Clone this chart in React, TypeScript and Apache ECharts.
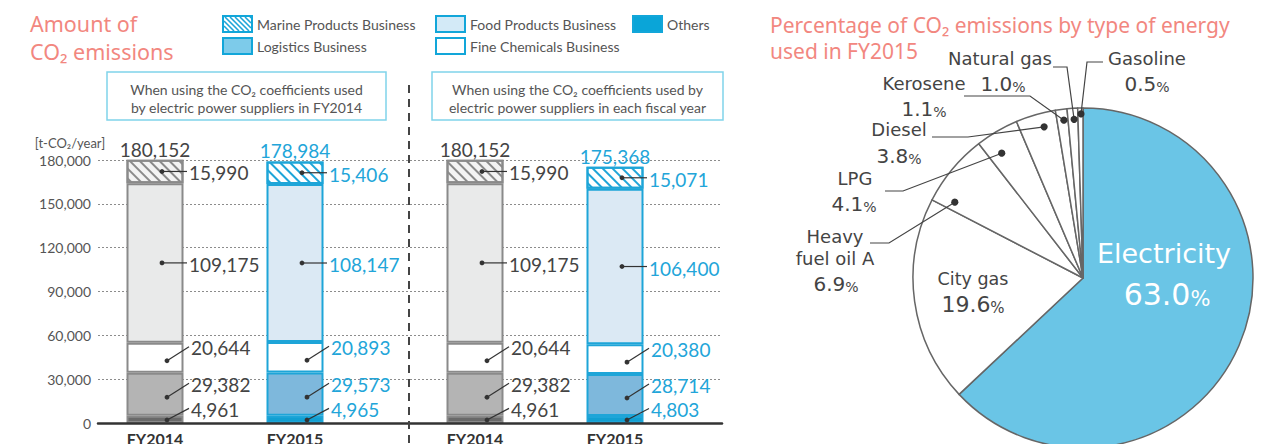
import React, { useEffect, useRef } from 'react';
import * as echarts from 'echarts';

// ---------------- data ----------------
const barCategories = ['FY2014', 'FY2015'];
// stacking order: bottom -> top
const segmentNames = ['Others', 'Logistics Business', 'Fine Chemicals Business', 'Food Products Business', 'Marine Products Business'];
const fy2014Emissions = [4961, 29382, 20644, 109175, 15990];
const fy2015EmissionsCoef2014 = [4965, 29573, 20893, 108147, 15406];
const fy2015EmissionsCoefEach = [4803, 28714, 20380, 106400, 15071];
const yAxisMin = 0;
const yAxisMax = 180000;
const yAxisInterval = 30000;
const yAxisUnit = '[t-CO₂/year]';
const panelNotes = [
  ['When using the CO₂ coefficients used', 'by electric power suppliers in FY2014'],
  ['When using the CO₂ coefficients used by', 'electric power suppliers in each fiscal year'],
];
const leftTitle = ['Amount of', 'CO₂ emissions'];
const rightTitle = ['Percentage of CO₂ emissions by type of energy', 'used in FY2015'];

const energyTypes = ['Electricity', 'City gas', 'Heavy fuel oil A', 'LPG', 'Diesel', 'Kerosene', 'Natural gas', 'Gasoline'];
const energyShares = [63.0, 19.6, 6.9, 4.1, 3.8, 1.1, 1.0, 0.5];

// ---------------- layout & style ----------------
const W = 1268;
const H = 444;
const FRAME_LEFT = 98;
const FRAME_RIGHT = 722;
const PLOT_TOP = 160;
const AXIS_Y = 423;
const PANEL_WIDTH = 280;
const PANEL_LEFTS = [85, 405];
const BAR_WIDTH = 57;

const SALMON = '#f2877f';
const GRAY_TEXT = '#444444';
const BLUE_TEXT = '#22a5d9';
const BODY_TEXT = '#555555';
const BODY_FONT = 'Lato';
const PIE_FONT = '"DejaVu Sans"';

const palettes = [
  { fills: ['#6a6a6a', '#b4b4b4', '#ffffff', '#e9eaea', '#f3f3f3'], border: '#8a8a8a', hatch: '#8a8a8a', text: GRAY_TEXT },
  { fills: ['#129fd1', '#7eb8dc', '#ffffff', '#dbe9f4', '#ffffff'], border: '#1ea5d8', hatch: '#1ea5d8', text: BLUE_TEXT },
];

const PIE_CX = 1083;
const PIE_CY = 278;
const PIE_R = 170;
const PIE_TEXT = '#444444';

type Pt = [number, number];
interface PieLabelCfg {
  lines?: string[];
  name: Pt;
  pct: Pt;
  nameSize?: number;
  numSize?: number;
  unitSize?: number;
  color?: string;
  lineHeight?: number;
  frac?: number;
  rr?: number;
  path?: Pt[];
}
const pieLabelPlacement: Record<string, PieLabelCfg> = {
  'Electricity': { name: [1164, 253], pct: [1167, 292], nameSize: 27, numSize: 30, unitSize: 21, color: '#ffffff' },
  'City gas': { name: [973, 279], pct: [973, 303], nameSize: 17.5, numSize: 22, unitSize: 15 },
  'Heavy fuel oil A': { lines: ['Heavy', 'fuel oil A'], lineHeight: 22, name: [835, 247], pct: [836, 282], frac: 0.13, rr: 0.876, path: [[889, 243], [870, 243]] },
  'LPG': { name: [855, 178], pct: [854, 202], frac: 0.32, rr: 0.876, path: [[903, 191], [885, 191]] },
  'Diesel': { name: [899, 129], pct: [899, 154], frac: 0.63, rr: 0.918, path: [[968, 137], [932, 137]] },
  'Kerosene': { name: [924, 83], pct: [924, 107], frac: 0.62, rr: 0.935, path: [[1030, 96], [964, 96]] },
  'Natural gas': { name: [1000, 58], pct: [1003, 82], frac: 0.61, rr: 0.935, path: [[1067, 67], [1053, 67]] },
  'Gasoline': { name: [1147, 58], pct: [1147, 82], frac: 0.61, rr: 0.965, path: [[1087, 62], [1103, 62]] },
};

const fmt = (v: number) => Number(v).toLocaleString('en-US');

function hatchLines(x0: number, y0: number, w: number, h: number, step: number, stroke: string) {
  const out: any[] = [];
  for (let c = -h; c < w; c += step) {
    const ys = Math.max(0, -c);
    const ye = Math.min(h, w - c);
    if (ye > ys) {
      out.push({
        type: 'line', z: 100,
        shape: { x1: x0 + c + ys, y1: y0 + ys, x2: x0 + c + ye, y2: y0 + ye },
        style: { stroke, lineWidth: 1.6 },
      });
    }
  }
  return out;
}

function segmentStyle(barIdx: number, segIdx: number) {
  const p = palettes[barIdx];
  const style: any = { color: p.fills[segIdx], borderColor: p.border, borderWidth: 2 };
  if (segIdx === 4) {
    style.decal = {
      symbol: 'rect', symbolSize: 1, dashArrayX: [1, 0], dashArrayY: [1.3, 4.2],
      rotation: Math.PI / 4, color: p.hatch,
    };
  }
  return style;
}

function labelSeries(panelIdx: number, bars: number[][]) {
  const data: number[][] = [];
  bars.forEach((vals, cat) => {
    let base = 0;
    vals.forEach((v, s) => {
      data.push([cat, base, base + v, s, v]);
      base += v;
    });
    data.push([cat, base, base, 5, base]);
  });
  return {
    type: 'custom', xAxisIndex: panelIdx + 1, yAxisIndex: panelIdx + 1, z: 10, silent: true, clip: false,
    data,
    renderItem: (_params: any, api: any) => {
      const cat = api.value(0);
      const low = api.value(1);
      const high = api.value(2);
      const seg = api.value(3);
      const val = api.value(4);
      const color = palettes[cat].text;
      const txt = fmt(val);
      if (seg === 5) {
        const p = api.coord([cat, high]);
        return {
          type: 'text', x: p[0], y: p[1] - 1,
          style: { text: txt, fill: color, font: `19px ${BODY_FONT}`, textAlign: 'center', textVerticalAlign: 'bottom' },
        };
      }
      const c = api.coord([cat, (low + high) / 2]);
      const axisY = api.coord([cat, 0])[1];
      const cx = c[0];
      const cy = c[1];
      let dot: Pt; let end: Pt; let ty: number;
      if (seg >= 3) {
        dot = [cx + 7, cy];
        end = [cx + 32, cy];
        ty = cy + 1.5;
      } else {
        dot = [cx + 12, Math.min(cy + 3, axisY - 3)];
        end = [cx + 34, cy - 11];
        ty = cy - 10;
      }
      return {
        type: 'group',
        children: [
          { type: 'polyline', shape: { points: [dot, end] }, style: { stroke: '#333', lineWidth: 1.2, fill: 'none' } },
          { type: 'circle', shape: { cx: dot[0], cy: dot[1], r: 2.4 }, style: { fill: '#333' } },
          {
            type: 'text', x: end[0] + 2, y: ty,
            style: { text: txt, fill: color, font: `19px ${BODY_FONT}`, textAlign: 'left', textVerticalAlign: 'middle' },
          },
        ],
      };
    },
  };
}

function pieGraphics() {
  const total = energyShares.reduce((a, b) => a + b, 0);
  const els: any[] = [];
  let acc = 0;
  energyTypes.forEach((name, i) => {
    const startDeg = (acc / total) * 360;
    const spanDeg = (energyShares[i] / total) * 360;
    acc += energyShares[i];
    const cfg = pieLabelPlacement[name];
    if (!cfg) return;
    const color = cfg.color ?? PIE_TEXT;
    const nameSize = cfg.nameSize ?? 18;
    const numSize = cfg.numSize ?? 20;
    const unitSize = cfg.unitSize ?? 14;
    els.push({
      type: 'text', z: 100, x: cfg.name[0], y: cfg.name[1],
      style: {
        text: (cfg.lines ?? [name]).join('\n'), fill: color, font: `${nameSize}px ${PIE_FONT}`,
        lineHeight: cfg.lineHeight ?? nameSize * 1.2, textAlign: 'center', textVerticalAlign: 'middle',
      },
    });
    els.push({
      type: 'text', z: 100, x: cfg.pct[0], y: cfg.pct[1],
      style: {
        text: `{n|${energyShares[i].toFixed(1)}}{u|%}`, textAlign: 'center', textVerticalAlign: 'middle',
        rich: {
          n: { font: `${numSize}px ${PIE_FONT}`, fill: color, verticalAlign: 'bottom', lineHeight: numSize * 1.15 },
          u: { font: `${unitSize}px ${PIE_FONT}`, fill: color, verticalAlign: 'bottom', lineHeight: numSize * 1.15 },
        },
      },
    });
    if (cfg.frac != null && cfg.path) {
      const th = ((startDeg + cfg.frac * spanDeg) * Math.PI) / 180;
      const r = PIE_R * (cfg.rr ?? 0.9);
      const dx = PIE_CX + r * Math.sin(th);
      const dy = PIE_CY - r * Math.cos(th);
      els.push({
        type: 'polyline', z: 100,
        shape: { points: [[dx, dy], ...cfg.path] },
        style: { stroke: '#444', lineWidth: 1.2, fill: 'none' },
      });
      els.push({ type: 'circle', z: 101, shape: { cx: dx, cy: dy, r: 3.6 }, style: { fill: '#333' } });
    }
  });
  return els;
}

function legendGraphics() {
  const items = [
    { name: segmentNames[4], col: 0, row: 0, fill: '#ffffff', hatch: true },
    { name: segmentNames[1], col: 0, row: 1, fill: '#7dcbea' },
    { name: segmentNames[3], col: 1, row: 0, fill: '#d3eaf7' },
    { name: segmentNames[2], col: 1, row: 1, fill: '#ffffff' },
    { name: segmentNames[0], col: 2, row: 0, fill: '#0aa5d8' },
  ];
  const colX = [223, 436, 633];
  const rowY = [16, 38];
  const iw = 29;
  const ih = 16;
  const els: any[] = [];
  items.forEach((it) => {
    const x = colX[it.col];
    const y = rowY[it.row];
    els.push({ type: 'rect', z: 100, shape: { x, y, width: iw, height: ih }, style: { fill: it.fill, stroke: 'none' } });
    if (it.hatch) els.push(...hatchLines(x + 1, y + 1, iw - 2, ih - 2, 5, '#1ea5d8'));
    els.push({ type: 'rect', z: 101, shape: { x, y, width: iw, height: ih }, style: { fill: 'none', stroke: '#12a6d9', lineWidth: 2 } });
    els.push({
      type: 'text', z: 100, x: x + iw + 5, y: y + ih / 2,
      style: { text: it.name, fill: BODY_TEXT, font: `14px ${BODY_FONT}`, textAlign: 'left', textVerticalAlign: 'middle' },
    });
  });
  return els;
}

function frameGraphics() {
  const els: any[] = [];
  // titles
  leftTitle.forEach((t, i) => {
    els.push({ type: 'text', z: 100, x: 30, y: 23 + i * 28, style: { text: t, fill: SALMON, font: '21.5px "Noto Sans"', textAlign: 'left', textVerticalAlign: 'middle' } });
  });
  rightTitle.forEach((t, i) => {
    els.push({ type: 'text', z: 100, x: 770, y: 25 + i * 26, style: { text: t, fill: SALMON, font: '21px "Noto Sans"', textAlign: 'left', textVerticalAlign: 'middle' } });
  });
  // panel notes
  const boxes = [
    { x: 107, w: 279 },
    { x: 432, w: 291 },
  ];
  boxes.forEach((b, i) => {
    els.push({ type: 'rect', z: 100, shape: { x: b.x, y: 72, width: b.w, height: 48 }, style: { fill: '#fff', stroke: '#80d4ea', lineWidth: 1.5 } });
    panelNotes[i].forEach((line, li) => {
      els.push({
        type: 'text', z: 101, x: b.x + b.w / 2, y: 89 + li * 18,
        style: { text: line, fill: BODY_TEXT, font: `14px ${BODY_FONT}`, textAlign: 'center', textVerticalAlign: 'middle' },
      });
    });
  });
  // separator
  els.push({ type: 'line', z: 100, shape: { x1: 409, y1: 85, x2: 409, y2: H }, style: { stroke: '#444', lineWidth: 2, lineDash: [8, 6] } });
  // unit label
  els.push({ type: 'text', z: 100, x: 70, y: 143, style: { text: yAxisUnit, fill: BODY_TEXT, font: `13px ${BODY_FONT}`, textAlign: 'center', textVerticalAlign: 'middle' } });
  return els;
}

function buildOption() {
  const panels = [
    { left: PANEL_LEFTS[0], bars: [fy2014Emissions, fy2015EmissionsCoef2014] },
    { left: PANEL_LEFTS[1], bars: [fy2014Emissions, fy2015EmissionsCoefEach] },
  ];
  const plotHeight = AXIS_Y - PLOT_TOP;
  const grid: any[] = [
    { left: FRAME_LEFT, top: PLOT_TOP, width: FRAME_RIGHT - FRAME_LEFT, height: plotHeight, containLabel: false, outerBoundsMode: 'none' },
    ...panels.map((p) => ({ left: p.left, top: PLOT_TOP, width: PANEL_WIDTH, height: plotHeight, containLabel: false, outerBoundsMode: 'none' })),
  ];
  const xAxis: any[] = [
    {
      type: 'value', gridIndex: 0, min: 0, max: 1, z: 5,
      axisLine: { show: true, onZero: false, lineStyle: { color: '#333', width: 2.5 } },
      axisTick: { show: false }, axisLabel: { show: false }, splitLine: { show: false },
    },
    ...panels.map((_p, i) => ({
      type: 'category', gridIndex: i + 1, data: barCategories,
      axisLine: { show: false }, axisTick: { show: false }, splitLine: { show: false },
      axisLabel: { fontFamily: BODY_FONT, fontWeight: 'bold', fontSize: 16, color: '#333', margin: 7 },
    })),
  ];
  const yAxis: any[] = [
    {
      type: 'value', gridIndex: 0, min: yAxisMin, max: yAxisMax, interval: yAxisInterval,
      axisLine: { show: false }, axisTick: { show: false },
      axisLabel: { formatter: (v: number) => fmt(v), fontFamily: BODY_FONT, fontSize: 14, color: BODY_TEXT, margin: 7 },
      splitLine: { show: true, lineStyle: { color: '#8c8c8c', width: 1, type: [2, 2] } },
    },
    ...panels.map((_p, i) => ({ type: 'value', gridIndex: i + 1, min: yAxisMin, max: yAxisMax, show: false })),
  ];
  const series: any[] = [];
  panels.forEach((p, pi) => {
    segmentNames.forEach((name, si) => {
      series.push({
        type: 'bar', name, xAxisIndex: pi + 1, yAxisIndex: pi + 1, stack: 'panel' + pi,
        barWidth: BAR_WIDTH, silent: true,
        data: p.bars.map((vals, bi) => ({ value: vals[si], itemStyle: segmentStyle(bi, si) })),
      });
    });
    series.push(labelSeries(pi, p.bars));
  });
  series.push({
    type: 'pie', center: [PIE_CX, PIE_CY], radius: PIE_R, startAngle: 90, clockwise: true,
    silent: true, avoidLabelOverlap: false, label: { show: false }, labelLine: { show: false },
    itemStyle: { borderColor: '#666', borderWidth: 1.5 },
    data: energyTypes.map((n, i) => ({ name: n, value: energyShares[i], itemStyle: { color: i === 0 ? '#6ac5e6' : '#ffffff' } })),
  });
  return {
    animation: false,
    backgroundColor: '#ffffff',
    grid, xAxis, yAxis, series,
    graphic: [...frameGraphics(), ...legendGraphics(), ...pieGraphics()],
  };
}

export default function App() {
  const ref = useRef<HTMLDivElement>(null);
  useEffect(() => {
    if (!ref.current) return;
    const chart = echarts.init(ref.current, null, { renderer: 'svg' });
    chart.setOption(buildOption() as any);
    return () => chart.dispose();
  }, []);
  return <div ref={ref} style={{ position: 'fixed', left: 0, top: 0, width: W, height: H, background: '#fff' }} />;
}
